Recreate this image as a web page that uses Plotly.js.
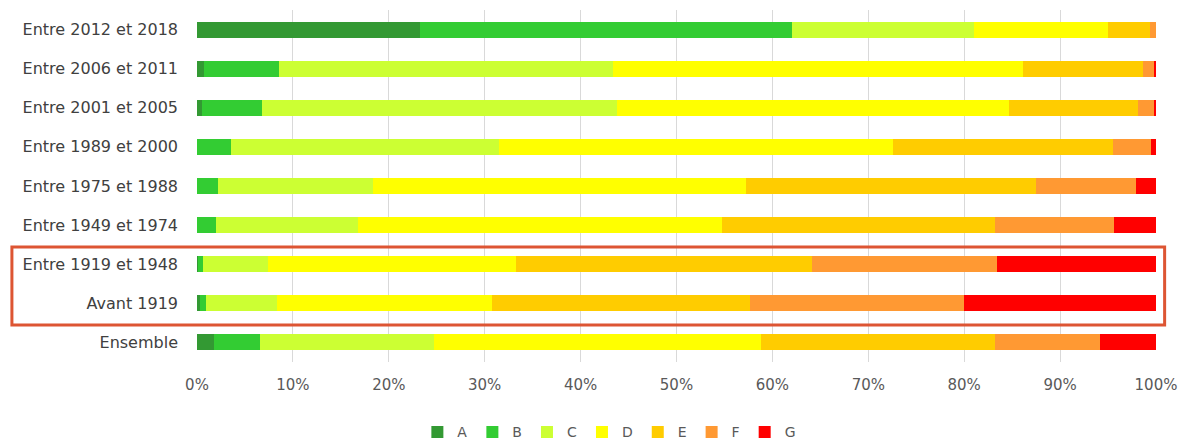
<!DOCTYPE html>
<html>
<head>
<meta charset="utf-8">
<script src="https://cdn.plot.ly/plotly-3.0.1.min.js"></script>
<style>html,body{margin:0;padding:0;background:#fff;}#chart{width:1182px;height:443px;}</style>
</head>
<body>
<div id="chart"></div>
<script>
const categories = ["Entre 2012 et 2018","Entre 2006 et 2011","Entre 2001 et 2005","Entre 1989 et 2000","Entre 1975 et 1988","Entre 1949 et 1974","Entre 1919 et 1948","Avant 1919","Ensemble"];
const seriesNames = ["A","B","C","D","E","F","G"];
const seriesColors = ["#339933","#33cc33","#ccff33","#ffff00","#ffcc00","#ff9933","#ff0000"];
const valA = [23.3, 0.7, 0.5, 0.0, 0.0, 0.0, 0.1, 0.3, 1.8];
const valB = [38.7, 7.8, 6.3, 3.5, 2.2, 2.0, 0.5, 0.6, 4.8];
const valC = [19.0, 34.9, 37.0, 28.0, 16.1, 14.8, 6.8, 7.4, 18.1];
const valD = [14.0, 42.7, 40.9, 41.1, 38.9, 37.9, 25.9, 22.5, 34.1];
const valE = [4.4, 12.5, 13.4, 22.9, 30.3, 28.5, 30.8, 26.9, 24.4];
const valF = [0.6, 1.2, 1.7, 4.0, 10.4, 12.4, 19.3, 22.3, 11.0];
const valG = [0.0, 0.2, 0.2, 0.5, 2.1, 4.4, 16.6, 20.0, 5.8];
const xTickVals = [0,10,20,30,40,50,60,70,80,90,100];
const xTickText = ["0%","10%","20%","30%","40%","50%","60%","70%","80%","90%","100%"];

const allVals = [valA,valB,valC,valD,valE,valF,valG];
const traces = seriesNames.map((n,i)=>({
  type:'bar', orientation:'h', name:n,
  x: allVals[i], y: categories,
  marker:{color:seriesColors[i], line:{width:0}},
  hoverinfo:'x+name'
}));

const layout = {
  width:1182, height:443,
  margin:{l:197, r:26, t:10, b:81, autoexpand:false},
  barmode:'stack', bargap:0.59,
  paper_bgcolor:'#fff', plot_bgcolor:'#fff',
  font:{family:'"DejaVu Sans", "Liberation Sans", sans-serif', color:'#404040', size:15},
  xaxis:{range:[0,100], tickvals:xTickVals, ticktext:xTickText, showgrid:true, gridcolor:'#d9d9d9', gridwidth:1,
         zeroline:false, showline:false, ticks:'', tickfont:{size:15,color:'#595959'}, ticklabelstandoff:12, fixedrange:true, automargin:false},
  yaxis:{type:'category', autorange:'reversed', showgrid:false, zeroline:false, ticks:'', showline:false,
         tickfont:{size:16,color:'#404040'}, ticklabelstandoff:18, fixedrange:true, automargin:false},
  showlegend:true,
  legend:{orientation:'h', x:0.43, xanchor:'center', yref:'container', y:0.024, yanchor:'middle', font:{size:14,color:'#595959'},
          traceorder:'normal', itemwidth:30, tracegroupgap:0},
  shapes:[{type:'rect', xref:'paper', yref:'paper', x0:-0.193, x1:1.009, y0:0.105, y1:0.327,
           line:{color:'#dd5533', width:3}, fillcolor:'rgba(0,0,0,0)', layer:'above'}]
};
Plotly.newPlot('chart', traces, layout, {displayModeBar:false, staticPlot:true});
</script>
</body>
</html>
